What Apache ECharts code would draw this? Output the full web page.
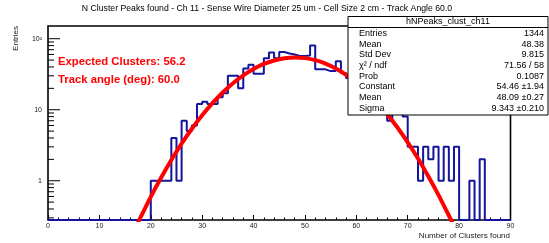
<!DOCTYPE html>
<html>
<head>
<meta charset="utf-8">
<script src="https://cdn.jsdelivr.net/npm/echarts@6/dist/echarts.min.js"></script>
<style>
  html, body { margin: 0; padding: 0; background: #fff; }
  #chart { width: 549px; height: 243px; }
</style>
</head>
<body>
<div id="chart"></div>
<script>
// histogram contents, one bin per cluster count, bins 0..89
const binCounts = [
  0, 0, 0, 0, 0, 0, 0, 0, 0, 0,
  0, 0, 0, 0, 0, 0, 0, 0, 0, 0,
  1, 1, 1, 1, 4, 1, 7, 5, 6, 12,
  13, 12, 12, 15, 17, 30, 30, 20, 38, 43,
  32, 32, 53, 64, 53, 65, 62, 60, 57, 57,
  58, 80, 37, 37, 35, 35, 48, 33, 28, 24,
  22, 18, 16, 13, 11, 10, 7, 10, 9, 8,
  3, 3, 1, 3, 2, 3, 1, 3, 1, 3,
  0, 0, 1, 0, 2, 0, 0, 0, 0, 0
]

// red gaussian fit line
const fitX = [17.5, 18, 20, 22, 24, 26, 28, 30, 32, 34, 36, 38, 40, 42, 44, 46, 48,
  50, 52, 54, 56, 58, 60, 62, 64, 66, 68, 70, 72, 74, 76, 78, 78.7]
const fitY = [0.256, 0.304, 0.593, 1.10, 1.96, 3.33, 5.40, 8.35, 12.4, 17.5, 23.6, 30.4, 37.4, 44.1, 49.4, 53.1, 54.5,
  53.3, 49.9, 44.6, 38.0, 31.0, 24.2, 18.0, 12.8, 8.67, 5.62, 3.48, 2.06, 1.16, 0.628, 0.324, 0.256]

const yMajorTicks = [1, 10, 100]
const yMajorLabels = ['1', '10', '10²']
const yMinorTicks = [0.3, 0.4, 0.5, 0.6, 0.7, 0.8, 0.9, 2, 3, 4, 5, 6, 7, 8, 9, 20, 30, 40, 50, 60, 70, 80, 90]

const statNames = ['Entries', 'Mean', 'Std Dev', 'χ² / ndf', 'Prob', 'Constant', 'Mean', 'Sigma']
const statValues = ['1344', '48.38', '9.815', '71.56 / 58', '0.1087', '54.46 ±1.94', '48.09 ±0.27', '9.343 ±0.210']

const Y_MIN = 0.28
const Y_MAX = 151
const FONT = 'Liberation Sans, Arial, Helvetica, sans-serif'

// step outline: empty bins sit on the bottom of the frame
const histPoints = binCounts.map((v, i) => [i, v > 0 ? v : Y_MIN])
histPoints.push([binCounts.length, binCounts[binCounts.length - 1] || Y_MIN])

const fitPoints = fitX.map((x, i) => [x, fitY[i]])

const yTickData = yMajorTicks.concat(yMinorTicks).map(v => [0, v])

function renderYTicks(params, api) {
  const v = api.value(1)
  const p = api.coord([0, v])
  const k = yMajorTicks.indexOf(v)
  const len = k >= 0 ? 12 : 6
  const children = [{
    type: 'line',
    shape: { x1: p[0], y1: p[1], x2: p[0] + len, y2: p[1] },
    style: { stroke: '#000', lineWidth: 1 }
  }]
  if (k >= 0) {
    children.push({
      type: 'text',
      x: p[0] - 6,
      y: p[1],
      style: { text: yMajorLabels[k], align: 'right', verticalAlign: 'middle', fontSize: 7, fontFamily: FONT, fill: '#222' }
    })
  }
  return { type: 'group', children: children }
}

const statTexts = []
statNames.forEach((name, i) => {
  const y = 33.5 + i * 10.7
  statTexts.push({
    type: 'text', x: 359, y: y, z: 101,
    style: { text: name, fontSize: 9, fontFamily: FONT, fill: '#000', align: 'left', verticalAlign: 'middle' }
  })
  statTexts.push({
    type: 'text', x: 544, y: y, z: 101,
    style: { text: statValues[i], fontSize: 9, fontFamily: FONT, fill: '#000', align: 'right', verticalAlign: 'middle' }
  })
})

const chart = echarts.init(document.getElementById('chart'))
chart.setOption({
  animation: false,
  grid: {
    left: 48,
    right: 38.5,
    top: 26,
    bottom: 23,
    show: true,
    borderColor: '#000',
    borderWidth: 1.6,
    backgroundColor: 'transparent'
  },
  xAxis: {
    type: 'value',
    min: 0,
    max: 90,
    interval: 10,
    axisLine: { show: false },
    axisTick: { show: true, inside: true, length: 5, lineStyle: { color: '#000', width: 1 } },
    minorTick: { show: true, splitNumber: 5, length: 2.5, lineStyle: { color: '#000', width: 1 } },
    axisLabel: { fontSize: 7, color: '#222', margin: 3, fontFamily: FONT },
    splitLine: { show: false }
  },
  yAxis: {
    type: 'log',
    logBase: 10,
    min: Y_MIN,
    max: Y_MAX,
    axisLine: { show: false },
    axisTick: { show: false },
    axisLabel: { show: false },
    splitLine: { show: false }
  },
  series: [
    {
      type: 'custom',
      renderItem: renderYTicks,
      data: yTickData,
      silent: true,
      z: 1
    },
    {
      name: 'hNPeaks_clust_ch11',
      type: 'line',
      step: 'end',
      data: histPoints,
      symbol: 'none',
      lineStyle: { color: '#14149c', width: 2 },
      silent: true,
      z: 2
    },
    {
      name: 'fit',
      type: 'line',
      data: fitPoints,
      symbol: 'none',
      smooth: 0.3,
      lineStyle: { color: '#ff0000', width: 4 },
      silent: true,
      z: 3
    }
  ],
  graphic: [
    {
      type: 'text', x: 267, y: 8.5, z: 100,
      style: {
        text: 'N Cluster Peaks found - Ch 11 - Sense Wire Diameter 25 um - Cell Size 2 cm - Track Angle 60.0',
        fontSize: 8.7, fontFamily: FONT, fill: '#000', align: 'center', verticalAlign: 'middle'
      }
    },
    {
      type: 'text', x: 16, y: 26, rotation: Math.PI / 2, z: 100,
      style: { text: 'Entries', fontSize: 8, fontFamily: FONT, fill: '#222', align: 'right', verticalAlign: 'middle' }
    },
    {
      type: 'text', x: 510, y: 236, z: 100,
      style: { text: 'Number of Clusters found', fontSize: 8, fontFamily: FONT, fill: '#222', align: 'right', verticalAlign: 'middle' }
    },
    {
      type: 'text', x: 58, y: 62, z: 100,
      style: { text: 'Expected Clusters: 56.2', fontSize: 11.3, fontWeight: 'bold', fontFamily: FONT, fill: '#ff0000', align: 'left', verticalAlign: 'middle' }
    },
    {
      type: 'text', x: 58, y: 80, z: 100,
      style: { text: 'Track angle (deg): 60.0', fontSize: 11.3, fontWeight: 'bold', fontFamily: FONT, fill: '#ff0000', align: 'left', verticalAlign: 'middle' }
    },
    {
      type: 'rect', z: 100,
      shape: { x: 348, y: 16.5, width: 200, height: 98.5 },
      style: { fill: '#fff', stroke: '#000', lineWidth: 1 }
    },
    {
      type: 'line', z: 101,
      shape: { x1: 348, y1: 27.5, x2: 548, y2: 27.5 },
      style: { stroke: '#000', lineWidth: 1 }
    },
    {
      type: 'text', x: 448, y: 22, z: 101,
      style: { text: 'hNPeaks_clust_ch11', fontSize: 9, fontFamily: FONT, fill: '#000', align: 'center', verticalAlign: 'middle' }
    }
  ].concat(statTexts)
})
</script>
</body>
</html>
